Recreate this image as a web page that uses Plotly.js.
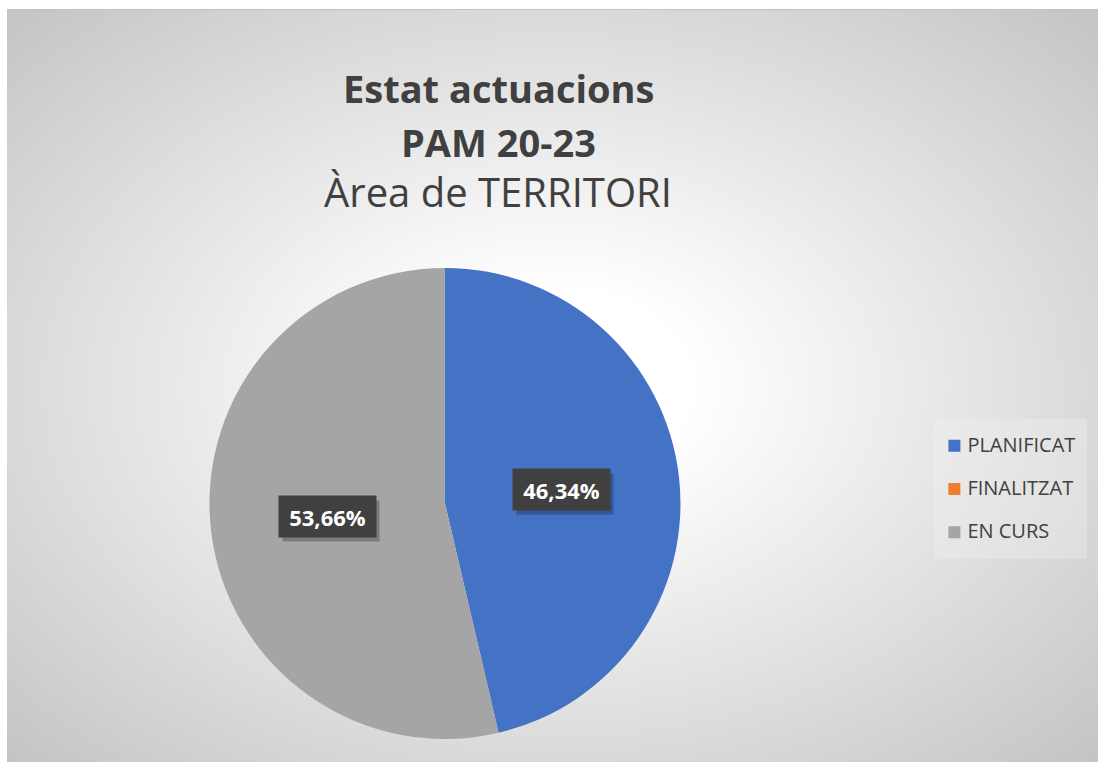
<!DOCTYPE html>
<html>
<head>
<meta charset="utf-8">
<script src="https://cdn.plot.ly/plotly-3.0.1.min.js"></script>
<style>
  html, body { margin:0; padding:0; background:#ffffff; }
  #bg { position:absolute; left:7px; top:9px; width:1091px; height:753px;
        background: radial-gradient(ellipse farthest-corner at 50% 50%, #ffffff 0%, #ffffff 18%, #c4c4c4 100%);
        box-shadow: inset 0 1px 0 #c0c0c0; }
  #chart { position:absolute; left:0; top:0; width:1098px; height:763px; }
</style>
</head>
<body>
<div id="bg"></div>
<div id="chart"></div>
<script>
const categories = ["PLANIFICAT", "FINALITZAT", "EN CURS"];
const values = [19, 0, 22];
const colors = ["#4472C4", "#ED7D31", "#A5A5A5"];
const titleLines = ["Estat actuacions", "PAM 20-23", "Àrea de TERRITORI"];

const W = 1098, H = 763;
const FONT = "'Open Sans', 'Noto Sans', sans-serif";
const dom = { x: [0.1903, 0.6202], y: [0.0315, 0.6488] };

const trace = {
  type: "pie",
  labels: categories.map(c => '<span style="font-size:20px">' + c + '</span>'),
  values: values,
  marker: { colors: colors, line: { width: 0 } },
  sort: false,
  direction: "clockwise",
  rotation: 0,
  textinfo: "none",
  hoverinfo: "label+percent",
  domain: dom,
  showlegend: true
};

// Data label positions derived from the slice angles
const total = values.reduce((a, b) => a + b, 0);
const cxPx = (dom.x[0] + dom.x[1]) / 2 * W;
const cyPx = (1 - (dom.y[0] + dom.y[1]) / 2) * H;
const rPx = Math.min((dom.x[1] - dom.x[0]) * W, (dom.y[1] - dom.y[0]) * H) / 2;
const annotations = [];
const shapes = [];
const boxW = 97, boxH = 41;
let cum = 0;
values.forEach((v, i) => {
  const frac = v / total;
  const mid = (cum + frac / 2) * 2 * Math.PI;
  cum += frac;
  if (v === 0) return;
  const px = cxPx + 0.5 * rPx * Math.sin(mid);
  const py = cyPx - 0.5 * rPx * Math.cos(mid);
  const txt = (frac * 100).toFixed(2).replace(".", ",") + "%";
  shapes.push({
    type: "rect", xref: "paper", yref: "paper", layer: "above",
    x0: (px - boxW / 2 + 3) / W, x1: (px + boxW / 2 + 3) / W,
    y0: 1 - (py + boxH / 2 + 4) / H, y1: 1 - (py - boxH / 2 + 4) / H,
    fillcolor: "rgba(0,0,0,0.25)", line: { width: 0 }
  });
  annotations.push({
    x: px / W, y: 1 - py / H, xref: "paper", yref: "paper",
    text: "<b>" + txt + "</b>", showarrow: false,
    font: { family: FONT, size: 22, color: "#ffffff" },
    bgcolor: "#404040", borderpad: 0, width: boxW, height: boxH,
    xanchor: "center", yanchor: "middle", valign: "middle"
  });
});

// Title lines
const titleY = [88, 142, 191];
const titleSize = [38, 38, 40];
titleLines.forEach((t, i) => {
  annotations.push({
    x: 498 / W, y: 1 - titleY[i] / H, xref: "paper", yref: "paper",
    text: i < 2 ? "<b>" + t + "</b>" : t, showarrow: false,
    font: { family: FONT, size: titleSize[i], color: "#404040" },
    xanchor: "center", yanchor: "middle"
  });
});

const layout = {
  width: W, height: H,
  margin: { l: 0, r: 0, t: 0, b: 0 },
  paper_bgcolor: "rgba(0,0,0,0)",
  plot_bgcolor: "rgba(0,0,0,0)",
  showlegend: true,
  legend: {
    x: 0.851, y: 0.359, xanchor: "left", yanchor: "middle",
    font: { family: FONT, size: 31, color: "#404040" },
    bgcolor: "rgba(240,240,240,0.35)",
    traceorder: "normal",
    itemclick: false
  },
  shapes: shapes,
  annotations: annotations
};

Plotly.newPlot("chart", [trace], layout, { displayModeBar: false, staticPlot: true }).then(gd => {
  // center the smaller legend text on its symbol
  gd.querySelectorAll(".legendtext").forEach(t => t.setAttribute("transform", "translate(-7,-6)"));
});
</script>
</body>
</html>
